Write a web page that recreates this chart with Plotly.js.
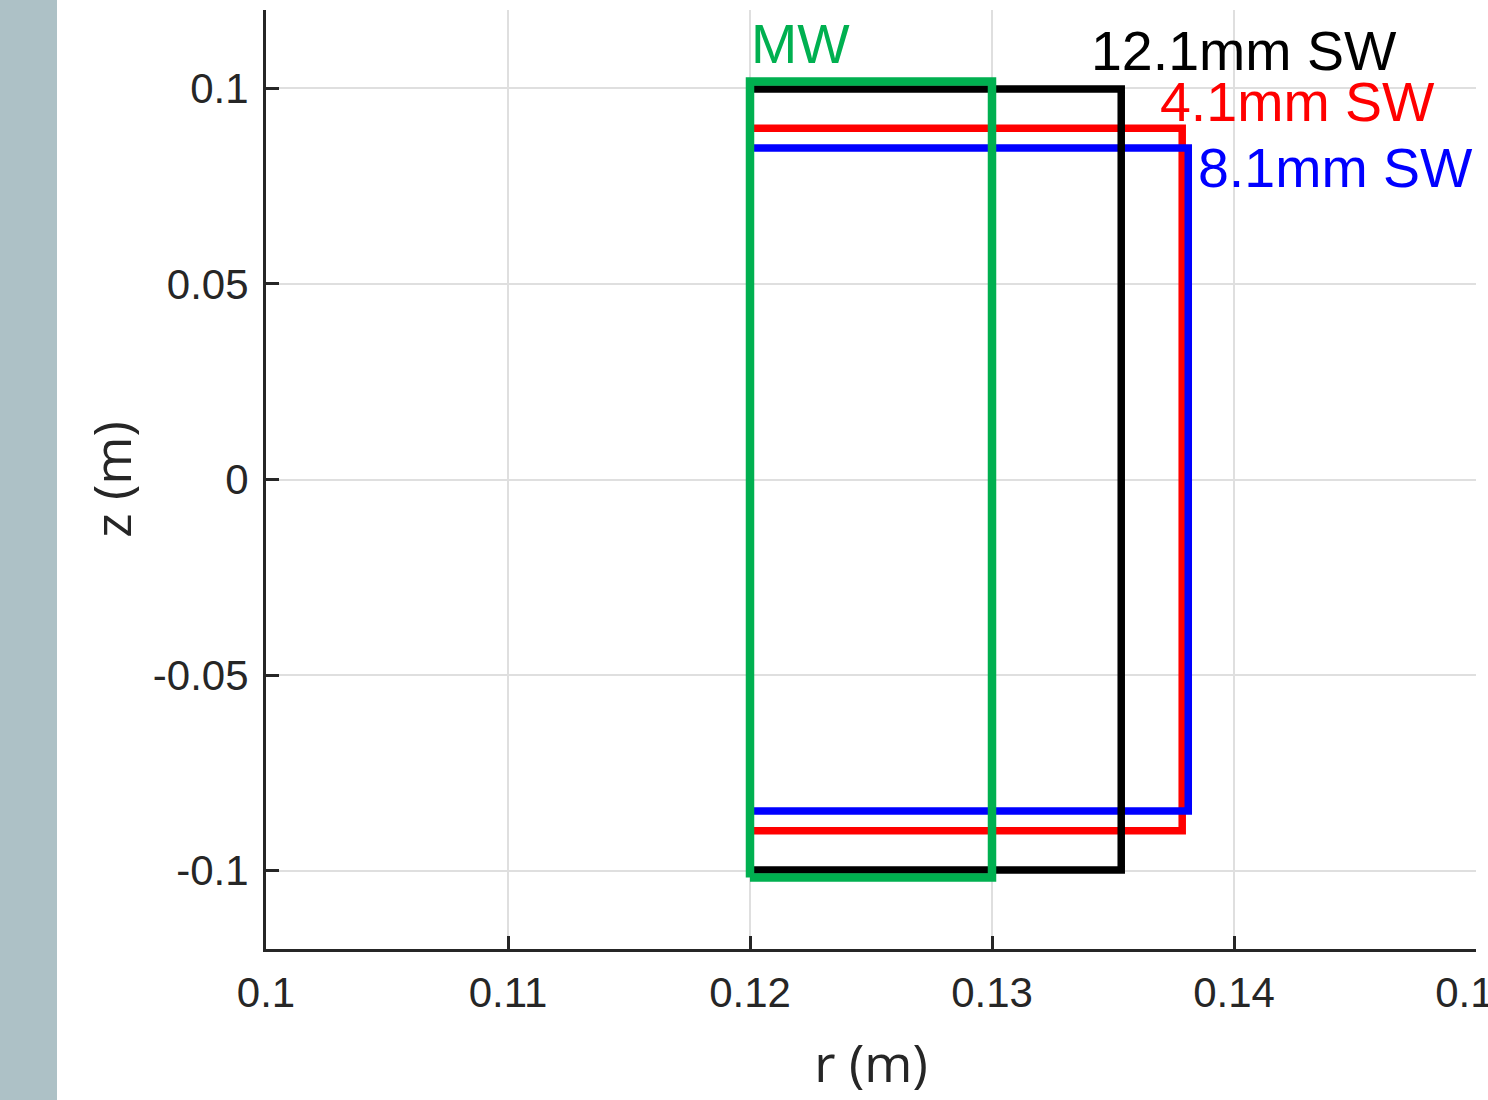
<!DOCTYPE html>
<html>
<head>
<meta charset="utf-8">
<script src="https://cdn.plot.ly/plotly-3.0.1.min.js"></script>
<style>
  html, body { margin: 0; padding: 0; background: #ffffff; }
  #wrap { position: relative; width: 1488px; height: 1100px; }
  #strip { position: absolute; left: 0; top: 0; width: 57px; height: 1100px; background: #adc1c6; z-index: 2; }
  #chart { position: absolute; left: 0; top: 0; width: 1488px; height: 1100px; }
</style>
</head>
<body>
<div id="wrap"><div id="chart"></div><div id="strip"></div></div>
<script>
// ---- data ----
const seriesNames = ['4.1mm SW', '8.1mm SW', '12.1mm SW', 'MW'];   // drawing order
const rInner = [0.12, 0.12, 0.12, 0.12];
const rOuter = [0.13786, 0.13811, 0.13534, 0.13];
const zHalf  = [0.0898, 0.0847, 0.0998, 0.1017];
const xTicks = [0.1, 0.11, 0.12, 0.13, 0.14, 0.15];
const xTickText = ['0.1', '0.11', '0.12', '0.13', '0.14', '0.15'];
const yTicks = [-0.1, -0.05, 0, 0.05, 0.1];
const yTickText = ['-0.1', '-0.05', '0', '0.05', '0.1'];

// ---- styles ----
const lineColors = ['#ff0000', '#0000ff', '#000000', '#00b050'];
const lineWidths = [7.5, 7.5, 7.5, 8.5];
// label anchor points (data coords) for each series text
const labelR = [0.13686, 0.13843, 0.13400, 0.11995];
const labelZ = [0.0964, 0.0796, 0.1096, 0.1114];

const traces = seriesNames.map((name, i) => ({
  type: 'scatter',
  mode: 'lines',
  name: name,
  x: [rInner[i], rOuter[i], rOuter[i], rInner[i], rInner[i]],
  y: [-zHalf[i], -zHalf[i], zHalf[i], zHalf[i], -zHalf[i]],
  line: { color: lineColors[i], width: lineWidths[i] },
  hoverinfo: 'skip',
  showlegend: false
}));

const annotations = seriesNames.map((name, i) => ({
  x: labelR[i], y: labelZ[i], xref: 'x', yref: 'y',
  text: name, showarrow: false, xanchor: 'left', yanchor: 'middle',
  font: { family: 'Liberation Sans, Arial, sans-serif', size: 55.5, color: lineColors[i] }
}));

const axisCommon = {
  showline: true, linecolor: '#262626', linewidth: 3,
  ticks: 'inside', ticklen: 13, tickwidth: 3, tickcolor: '#262626',
  showgrid: true, gridcolor: '#dfdfdf', gridwidth: 2,
  zeroline: false, mirror: false,
  tickfont: { family: 'Liberation Sans, Arial, sans-serif', size: 42, color: '#262626' },
  ticklabeloverflow: 'allow'
};

const layout = {
  width: 1488, height: 1100,
  margin: { l: 266, r: 12, t: 10, b: 151 },
  paper_bgcolor: '#ffffff', plot_bgcolor: '#ffffff',
  showlegend: false,
  xaxis: Object.assign({}, axisCommon, {
    range: [0.1, 0.15], tickmode: 'array', tickvals: xTicks, ticktext: xTickText,
    ticklabelstandoff: 5,
    title: { text: 'r (m)', font: { family: 'Open Sans, sans-serif', size: 52, color: '#262626' }, standoff: 31 }
  }),
  yaxis: Object.assign({}, axisCommon, {
    range: [-0.12, 0.12], tickmode: 'array', tickvals: yTicks, ticktext: yTickText,
    ticklabelstandoff: 6,
    title: { text: 'z (m)', font: { family: 'Open Sans, sans-serif', size: 52, color: '#262626' }, standoff: 5 }
  }),
  annotations: annotations
};

Plotly.newPlot('chart', traces, layout, { staticPlot: true, displayModeBar: false });
</script>
</body>
</html>
